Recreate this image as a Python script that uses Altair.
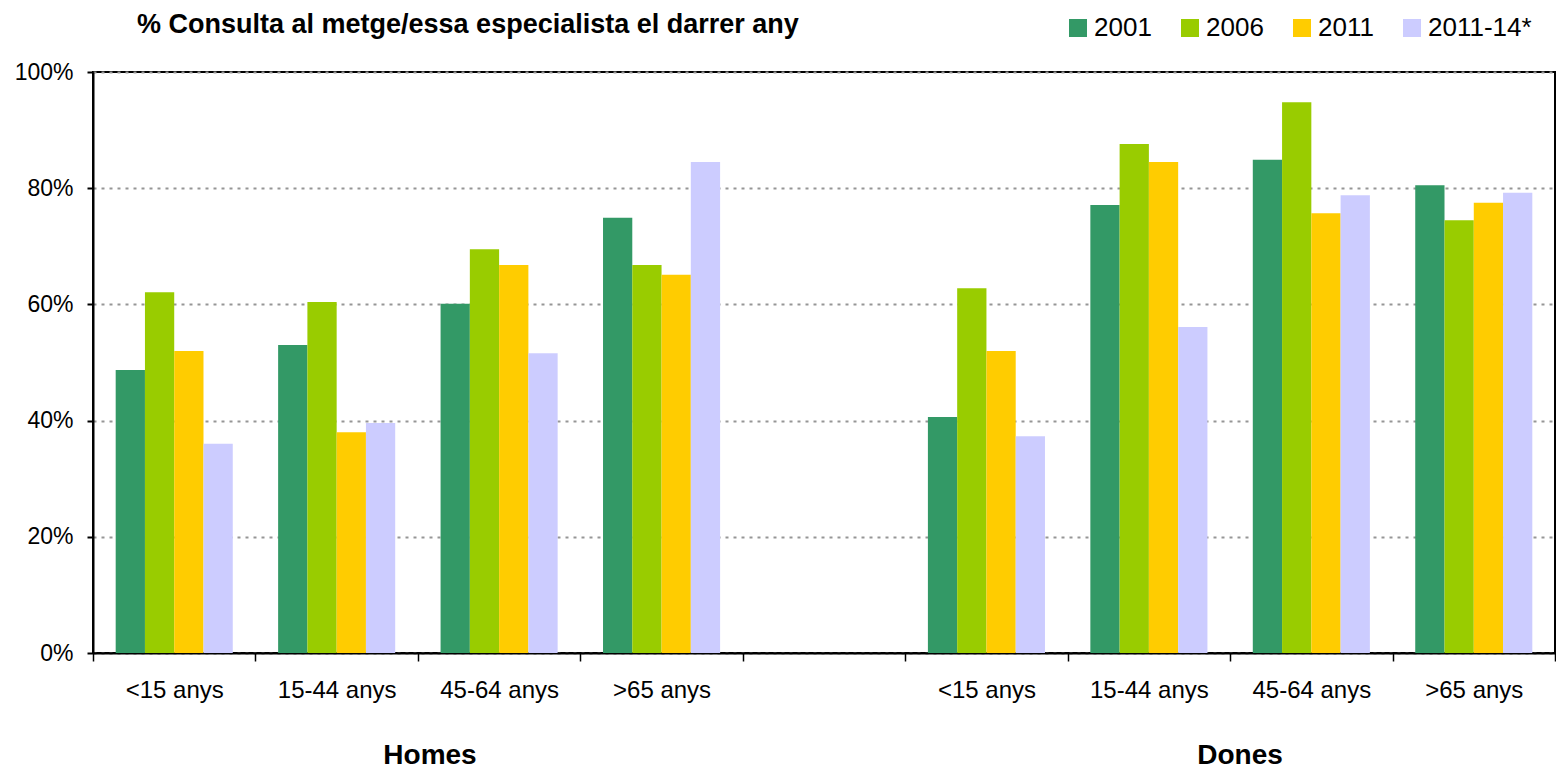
import altair as alt
import pandas as pd

title_text = "% Consulta al metge/essa especialista el darrer any"
series = ["2001", "2006", "2011", "2011-14*"]
colors = ["#339966", "#99CC00", "#FFCC00", "#CCCCFF"]
groups = ["Homes", "Dones"]
ages = ["<15 anys", "15-44 anys", "45-64 anys", ">65 anys"]

homes_2001 = [48.7, 53.0, 60.1, 74.9]
homes_2006 = [62.1, 60.4, 69.5, 66.8]
homes_2011 = [52.0, 38.0, 66.8, 65.1]
homes_201114 = [36.0, 39.6, 51.6, 84.5]
dones_2001 = [40.6, 77.1, 84.9, 80.5]
dones_2006 = [62.8, 87.6, 94.8, 74.5]
dones_2011 = [52.0, 84.5, 75.7, 77.5]
dones_201114 = [37.3, 56.1, 78.8, 79.2]

values = {
    "Homes": [homes_2001, homes_2006, homes_2011, homes_201114],
    "Dones": [dones_2001, dones_2006, dones_2011, dones_201114],
}

rows = []
for g in groups:
    for si, s in enumerate(series):
        for ai, a in enumerate(ages):
            rows.append({"key": f"{g}|{a}", "serie": s, "pct": values[g][si][ai]})
df = pd.DataFrame(rows)

domain = [f"Homes|{a}" for a in ages] + ["gap"] + [f"Dones|{a}" for a in ages]

FONT = "Liberation Sans"

bars = alt.Chart(df).mark_bar().encode(
    x=alt.X("key:N", scale=alt.Scale(domain=domain, paddingInner=0, paddingOuter=0), title=None,
            axis=alt.Axis(orient="bottom", tickBand="extent", labelAngle=0, labelFontSize=24,
                          labelFont=FONT, labelColor="black", tickColor="black",
                          tickSize=8, tickWidth=1.5, domainColor="black", domainWidth=2,
                          labelPadding=17, grid=False,
                          labelExpr="isString(datum.value) && indexof(datum.value,'|')>=0 ? split(datum.value,'|')[1] : ''")),
    xOffset=alt.XOffset("serie:N",
                        scale=alt.Scale(domain=series, paddingInner=0, paddingOuter=0.775)),
    y=alt.Y("pct:Q", scale=alt.Scale(domain=[0, 100], nice=False), title=None,
            axis=alt.Axis(orient="left", values=[0, 20, 40, 60, 80, 100], labelExpr="datum.value + '%'",
                          labelFontSize=23, labelFont=FONT, labelColor="black",
                          tickColor="black", tickSize=6, tickWidth=2,
                          domainColor="black", domainWidth=2, labelPadding=14,
                          grid=True, gridColor="#969696", gridDash=[3, 5], gridWidth=2)),
    color=alt.Color("serie:N",
                    scale=alt.Scale(domain=series, range=colors),
                    legend=alt.Legend(title=None, orient="none", direction="horizontal",
                                      legendX=972, legendY=-57, symbolType="square",
                                      symbolSize=324, symbolStrokeWidth=0, labelFontSize=26,
                                      labelFont=FONT, labelColor="black", labelOffset=3,
                                      columnPadding=25)),
)

title_df = pd.DataFrame({"t": [title_text]})
title_layer = alt.Chart(title_df).mark_text(
    align="left", baseline="alphabetic", fontSize=27, fontWeight="bold", font=FONT, color="black"
).encode(text="t:N", x=alt.value(44), y=alt.value(-39))

homes_df = pd.DataFrame({"label": [groups[0]]})
dones_df = pd.DataFrame({"label": [groups[1]]})
grp_style = dict(align="center", baseline="alphabetic", fontSize=28, fontWeight="bold",
                 font=FONT, color="black")
homes_layer = alt.Chart(homes_df).mark_text(**grp_style).encode(
    text="label:N", x=alt.value(337), y=alt.value(692))
dones_layer = alt.Chart(dones_df).mark_text(**grp_style).encode(
    text="label:N", x=alt.value(1147), y=alt.value(692))

chart = alt.layer(bars, homes_layer, dones_layer, title_layer).properties(
    width=1462, height=581,
    background="white",
    autosize=alt.AutoSizeParams(type="none"),
    padding={"left": 85, "top": 64, "right": 1, "bottom": 118},
).configure_view(stroke="black", strokeWidth=2)

chart.save("out.html", embed_options={"renderer": "svg", "actions": False})
